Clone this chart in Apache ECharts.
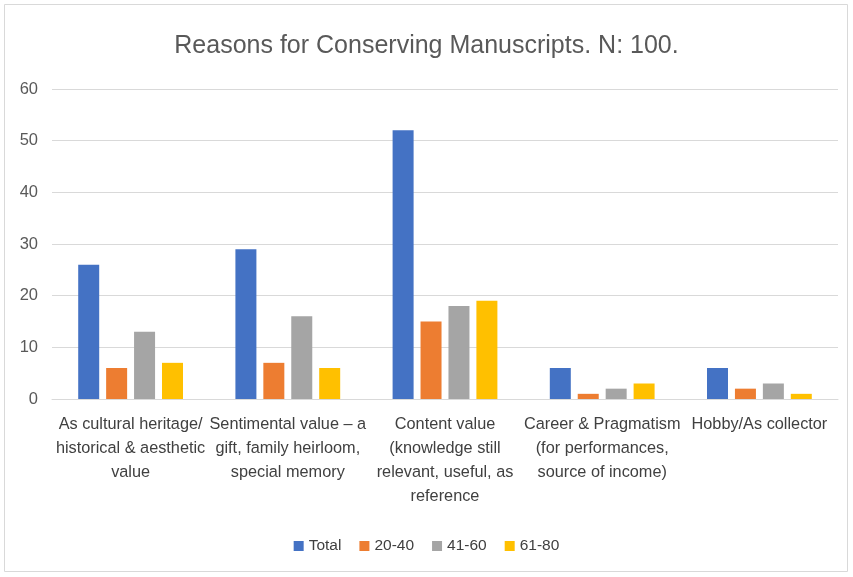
<!DOCTYPE html>
<html><head><meta charset="utf-8">
<script src="https://cdn.jsdelivr.net/npm/echarts@6/dist/echarts.min.js"></script>
<style>html,body{margin:0;padding:0;background:#fff}#c{width:853px;height:577px}</style>
</head><body><div id="c"></div>
<script>
var categories = [
  "As cultural heritage/\nhistorical & aesthetic\nvalue",
  "Sentimental value \u2013 a\ngift, family heirloom,\nspecial memory",
  "Content value\n(knowledge still\nrelevant, useful, as\nreference",
  "Career & Pragmatism\n(for performances,\nsource of income)",
  "Hobby/As collector"
];
var seriesNames = ["Total", "20-40", "41-60", "61-80"];
var totalVals = [26, 29, 52, 6, 6];
var age2040 = [6, 7, 15, 1, 2];
var age4160 = [13, 16, 18, 2, 3];
var age6180 = [7, 6, 19, 3, 1];
var yTicks = [0, 10, 20, 30, 40, 50, 60];
var colors = ["#4472C4", "#ED7D31", "#A5A5A5", "#FFC000"];
var font = "Liberation Sans";
var chart = echarts.init(document.getElementById('c'), null, {renderer: 'canvas'});
var dataSets = [totalVals, age2040, age4160, age6180];
chart.setOption({
  animation: false,
  color: colors,
  title: {text: "Reasons for Conserving Manuscripts. N: 100.", left: 'center', top: 29,
    textStyle: {fontFamily: font, fontSize: 25, fontWeight: 'normal', color: '#595959'}},
  legend: {data: seriesNames, bottom: 18, left: 'center', itemWidth: 10, itemHeight: 10, itemGap: 18,
    icon: 'rect', textStyle: {fontFamily: font, fontSize: 15.5, color: '#404040'}},
  grid: {left: 52, right: 15, top: 89, bottom: 178, containLabel: false},
  xAxis: {type: 'category', data: categories,
    axisLine: {lineStyle: {color: '#d9d9d9'}}, axisTick: {show: false},
    axisLabel: {interval: 0, fontFamily: font, fontSize: 16.3, color: '#404040', lineHeight: 24, margin: 14}},
  yAxis: {type: 'value', min: yTicks[0], max: yTicks[yTicks.length-1], interval: 10,
    axisLine: {show: false}, axisTick: {show: false},
    splitLine: {lineStyle: {color: '#d9d9d9'}},
    axisLabel: {fontFamily: font, fontSize: 16.5, color: '#595959', margin: 14}},
  graphic: [{type: 'rect', shape: {x: 4.5, y: 4.5, width: 843, height: 567},
    style: {fill: 'none', stroke: '#d9d9d9', lineWidth: 1}, silent: true}],
  series: seriesNames.map(function(n, i){
    return {name: n, type: 'bar', data: dataSets[i], barWidth: 21, barGap: '33%'};
  })
});
</script></body></html>
